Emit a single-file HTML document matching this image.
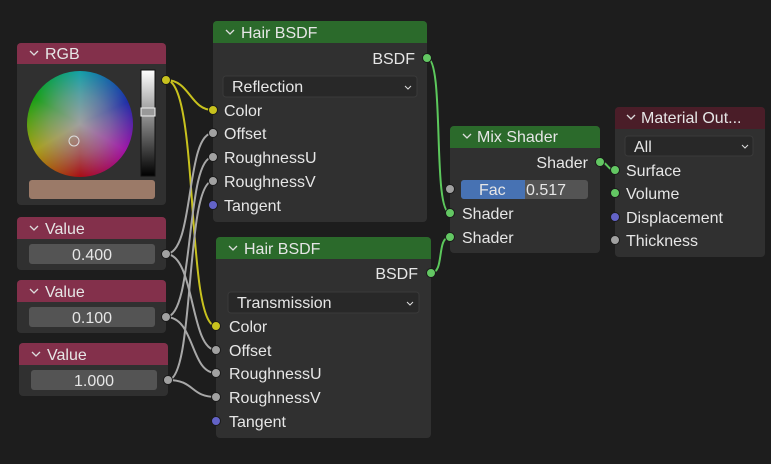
<!DOCTYPE html>
<html><head><meta charset="utf-8"><style>
body{margin:0;width:771px;height:464px;background:#1d1d1d;overflow:hidden;font-family:"Liberation Sans","DejaVu Sans",sans-serif;}
svg{position:absolute;left:0;top:0}
text{font-family:"Liberation Sans","DejaVu Sans",sans-serif;font-size:16px;fill:#e6e6e6}
#wheel{position:absolute;left:27px;top:71px;width:106px;height:106px;border-radius:50%;
background:radial-gradient(circle,rgba(160,160,160,1) 0%,rgba(160,160,160,0.5) 40%,rgba(160,160,160,0) 72%),conic-gradient(#10a0a8 0deg,#1a2aa8 65deg,#a010a8 120deg,#a80a10 180deg,#a8a010 240deg,#10a010 300deg,#10a0a8 360deg);}
</style></head><body>
<svg width="771" height="464" viewBox="0 0 771 464">
<defs>
<linearGradient id="sl" x1="0" y1="0" x2="0" y2="1"><stop offset="0" stop-color="#fff"/><stop offset="1" stop-color="#000"/></linearGradient>
</defs>
<g>
<rect x="17" y="43" width="149" height="162" rx="4" fill="#303030"/>
<path d="M17 64V47a4 4 0 0 1 4-4h141a4 4 0 0 1 4 4v17z" fill="#83304b"/>
<path d="M30 51l4 4 4-4" fill="none" stroke="#ddd" stroke-width="1.3"/><text x="45" y="59">RGB</text>
<rect x="141" y="70" width="14" height="106" fill="url(#sl)" stroke="#111"/>
<rect x="141" y="108" width="14" height="8" fill="#999" stroke="#eee"/>
<rect x="29" y="180" width="126" height="19" rx="3" fill="#9b7a68"/>

<rect x="17" y="217" width="149" height="53" rx="4" fill="#303030"/>
<path d="M17 239V221a4 4 0 0 1 4-4h141a4 4 0 0 1 4 4v18z" fill="#83304b"/>
<path d="M30 226l4 4 4-4" fill="none" stroke="#ddd" stroke-width="1.3"/><text x="45" y="234">Value</text>
<rect x="29" y="244" width="126" height="20" rx="3" fill="#545454"/>
<text x="92" y="260" text-anchor="middle">0.400</text>

<rect x="17" y="280" width="149" height="53" rx="4" fill="#303030"/>
<path d="M17 302V284a4 4 0 0 1 4-4h141a4 4 0 0 1 4 4v18z" fill="#83304b"/>
<path d="M30 289l4 4 4-4" fill="none" stroke="#ddd" stroke-width="1.3"/><text x="45" y="297">Value</text>
<rect x="29" y="307" width="126" height="20" rx="3" fill="#545454"/>
<text x="92" y="323" text-anchor="middle">0.100</text>

<rect x="19" y="343" width="149" height="53" rx="4" fill="#303030"/>
<path d="M19 365V347a4 4 0 0 1 4-4h141a4 4 0 0 1 4 4v18z" fill="#83304b"/>
<path d="M32 352l4 4 4-4" fill="none" stroke="#ddd" stroke-width="1.3"/><text x="47" y="360">Value</text>
<rect x="31" y="370" width="126" height="20" rx="3" fill="#545454"/>
<text x="94" y="386" text-anchor="middle">1.000</text>

<rect x="213" y="21" width="214" height="201" rx="4" fill="#303030"/>
<path d="M213 43V25a4 4 0 0 1 4-4h206a4 4 0 0 1 4 4v18z" fill="#2b6a2b"/>
<path d="M226 30l4 4 4-4" fill="none" stroke="#ddd" stroke-width="1.3"/><text x="241" y="38">Hair BSDF</text>
<text x="415" y="64" text-anchor="end">BSDF</text>
<rect x="223" y="76" width="194" height="21" rx="3" fill="#282828" stroke="#3a3a3a"/>
<text x="232" y="92">Reflection</text><path d="M405 86l3 3 3-3" fill="none" stroke="#ddd"/>
<text x="224" y="116">Color</text><text x="224" y="139">Offset</text><text x="224" y="163">RoughnessU</text><text x="224" y="187">RoughnessV</text><text x="224" y="211">Tangent</text>

<rect x="216" y="237" width="215" height="201" rx="4" fill="#303030"/>
<path d="M216 259V241a4 4 0 0 1 4-4h207a4 4 0 0 1 4 4v18z" fill="#2b6a2b"/>
<path d="M229 246l4 4 4-4" fill="none" stroke="#ddd" stroke-width="1.3"/><text x="244" y="254">Hair BSDF</text>
<text x="418" y="279" text-anchor="end">BSDF</text>
<rect x="228" y="292" width="191" height="21" rx="3" fill="#282828" stroke="#3a3a3a"/>
<text x="237" y="308">Transmission</text><path d="M407 302l3 3 3-3" fill="none" stroke="#ddd"/>
<text x="229" y="332">Color</text><text x="229" y="356">Offset</text><text x="229" y="379">RoughnessU</text><text x="229" y="403">RoughnessV</text><text x="229" y="427">Tangent</text>

<rect x="450" y="126" width="150" height="127" rx="4" fill="#303030"/>
<path d="M450 148V130a4 4 0 0 1 4-4h142a4 4 0 0 1 4 4v18z" fill="#2b6a2b"/>
<path d="M463 134l4 4 4-4" fill="none" stroke="#ddd" stroke-width="1.3"/><text x="477" y="142">Mix Shader</text>
<text x="588" y="168" text-anchor="end">Shader</text>
<rect x="461" y="180" width="127" height="19" rx="3" fill="#545454"/>
<path d="M464 180h61v19h-61a3 3 0 0 1-3-3v-13a3 3 0 0 1 3-3z" fill="#4772b3"/>
<text x="479" y="195">Fac</text><text x="526" y="195">0.517</text>
<text x="462" y="219">Shader</text><text x="462" y="243">Shader</text>

<rect x="615" y="107" width="150" height="150" rx="4" fill="#303030"/>
<path d="M615 129V111a4 4 0 0 1 4-4h142a4 4 0 0 1 4 4v18z" fill="#4a1d28"/>
<path d="M627 115l4 4 4-4" fill="none" stroke="#ddd" stroke-width="1.3"/><text x="641" y="123">Material Out...</text>
<rect x="625" y="136" width="128" height="20" rx="3" fill="#282828" stroke="#3a3a3a"/>
<text x="634" y="152">All</text><path d="M742 145l3 3 3-3" fill="none" stroke="#ddd"/>
<text x="626" y="176">Surface</text><text x="626" y="199">Volume</text><text x="626" y="223">Displacement</text><text x="626" y="246">Thickness</text>
</g>
<g fill="none" stroke-width="2">
<path d="M166 80C190 80 190 110 213 110" stroke="#c8c21e"/>
<path d="M166 80C200 80 185 326 216 326" stroke="#c8c21e"/>
<g stroke="#a8a8a8">
<path d="M166 254C195 254 185 133 213 133"/>
<path d="M166 254C195 254 190 350 216 350"/>
<path d="M166 317C195 317 185 157 213 157"/>
<path d="M166 317C195 317 190 373 216 373"/>
<path d="M168 380C195 380 185 181 213 181"/>
<path d="M168 380C195 380 190 397 216 397"/>
</g>
<g stroke="#5cc85c">
<path d="M427 58C445 58 432 213 450 213"/>
<path d="M431 273C445 273 436 237 450 237"/>
<path d="M600 162C608 162 607 170 615 170"/>
</g>
</g>
<g stroke="#1a1a1a" stroke-width="1">
<circle cx="166" cy="80" r="4.5" fill="#c8c21e"/>
<circle cx="166" cy="254" r="4.5" fill="#a1a1a1"/>
<circle cx="166" cy="317" r="4.5" fill="#a1a1a1"/>
<circle cx="168" cy="380" r="4.5" fill="#a1a1a1"/>
<circle cx="427" cy="58" r="4.5" fill="#63c763"/>
<circle cx="213" cy="110" r="4.5" fill="#c8c21e"/>
<circle cx="213" cy="133" r="4.5" fill="#a1a1a1"/>
<circle cx="213" cy="157" r="4.5" fill="#a1a1a1"/>
<circle cx="213" cy="181" r="4.5" fill="#a1a1a1"/>
<circle cx="213" cy="205" r="4.5" fill="#6363c7"/>
<circle cx="431" cy="273" r="4.5" fill="#63c763"/>
<circle cx="216" cy="326" r="4.5" fill="#c8c21e"/>
<circle cx="216" cy="350" r="4.5" fill="#a1a1a1"/>
<circle cx="216" cy="373" r="4.5" fill="#a1a1a1"/>
<circle cx="216" cy="397" r="4.5" fill="#a1a1a1"/>
<circle cx="216" cy="421" r="4.5" fill="#6363c7"/>
<circle cx="600" cy="162" r="4.5" fill="#63c763"/>
<circle cx="450" cy="189" r="4.5" fill="#a1a1a1"/>
<circle cx="450" cy="213" r="4.5" fill="#63c763"/>
<circle cx="450" cy="237" r="4.5" fill="#63c763"/>
<circle cx="615" cy="170" r="4.5" fill="#63c763"/>
<circle cx="615" cy="193" r="4.5" fill="#63c763"/>
<circle cx="615" cy="217" r="4.5" fill="#6363c7"/>
<circle cx="615" cy="240" r="4.5" fill="#a1a1a1"/>
</g>
</svg>
<div id="wheel"></div>
<svg width="771" height="464" style="pointer-events:none"><circle cx="74" cy="141" r="5" fill="none" stroke="#ddd" stroke-width="1"/></svg>
</body></html>
